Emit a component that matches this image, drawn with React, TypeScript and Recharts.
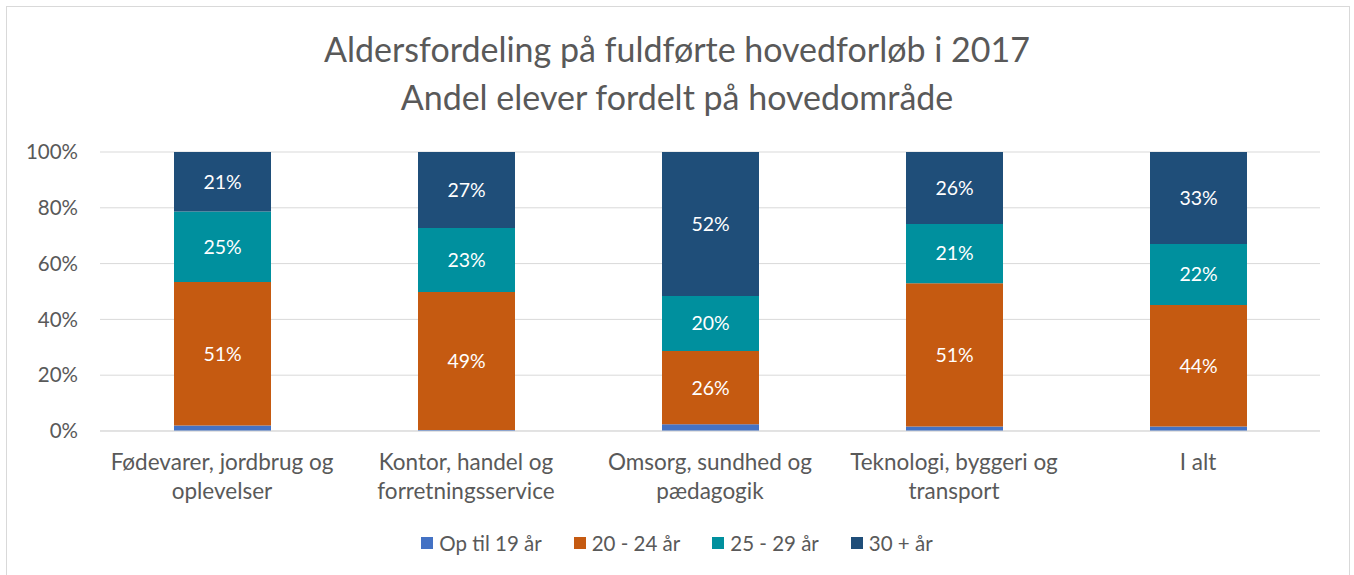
import React from 'react';
import { BarChart, Bar, XAxis, YAxis, CartesianGrid, Legend, LabelList } from 'recharts';

// Andele (%)
const categories = [
    'Fødevarer, jordbrug og\noplevelser',
    'Kontor, handel og\nforretningsservice',
    'Omsorg, sundhed og\npædagogik',
    'Teknologi, byggeri og\ntransport',
    'I alt',
];
const opTil19 = [2.0, 0.4, 2.4, 1.6, 1.6];
const aar20til24 = [51.4, 49.4, 26.3, 51.4, 43.6];
const aar25til29 = [25.3, 23.0, 19.7, 21.2, 21.8];
const aar30plus = [21.3, 27.2, 51.6, 25.8, 33.0];
const yTicks = [0, 20, 40, 60, 80, 100];

const titleLines = ['Aldersfordeling på fuldførte hovedforløb i 2017', 'Andel elever fordelt på hovedområde'];

const series = [
    { key: 'a', name: 'Op til 19 år', color: '#4472C4', values: opTil19, label: false },
    { key: 'b', name: '20 - 24 år', color: '#C55A11', values: aar20til24, label: true },
    { key: 'c', name: '25 - 29 år', color: '#00909E', values: aar25til29, label: true },
    { key: 'd', name: '30 + år', color: '#1F4E79', values: aar30plus, label: true },
];

const data = categories.map((name, i) => {
    const row: Record<string, any> = { name };
    series.forEach(s => { row[s.key] = s.values[i]; });
    return row;
});

const FONT = 'Lato, "Open Sans", sans-serif';
const TEXT = '#595959';

const CategoryTick = (props: any) => {
    const { x, y, payload } = props;
    const lines = String(payload.value).split('\n');
    return (
        <text x={x} y={y} textAnchor="middle" fill={TEXT} fontSize={22.5} fontFamily={FONT}>
            {lines.map((line, i) => (
                <tspan key={i} x={x} dy={i === 0 ? 39 : 29}>{line}</tspan>
            ))}
        </text>
    );
};

const LegendContent = () => (
    <div style={{ display: 'flex', justifyContent: 'center', gap: 32, fontFamily: FONT, fontSize: 20.5, color: TEXT }}>
        {series.map(s => (
            <div key={s.key} style={{ display: 'flex', alignItems: 'center' }}>
                <span style={{ width: 12, height: 12, background: s.color, display: 'inline-block', marginRight: 6 }} />
                <span>{s.name}</span>
            </div>
        ))}
    </div>
);

const App: React.FC = () => {
    return (
        <div style={{ position: 'relative', width: 1354, height: 575, overflow: 'hidden', background: 'white' }}>
            <style>{`body { margin: 0; }`}</style>
            <div style={{ position: 'absolute', left: 6, top: 6, width: 1342, height: 620, border: '1px solid #d9d9d9' }} />
            <div style={{ position: 'absolute', top: 25, left: 0, width: 1354, textAlign: 'center', fontFamily: FONT, fontSize: 34, color: TEXT, lineHeight: '48px' }}>
                {titleLines.map(t => <div key={t}>{t}</div>)}
            </div>
            <div style={{ position: 'absolute', left: 0, top: 0 }}>
                <BarChart width={1354} height={575} data={data} margin={{ top: 152, right: 34, bottom: 64, left: 20 }}>
                    <CartesianGrid vertical={false} stroke="#d9d9d9" />
                    <XAxis dataKey="name" height={80} tickLine={false} tickSize={0} tickMargin={0} stroke="#d9d9d9" tick={<CategoryTick />} interval={0} />
                    <YAxis width={80} domain={[0, 100]} ticks={yTicks} tickFormatter={(v: number) => `${v}%`} axisLine={false} tickLine={false} tickSize={0} tickMargin={22}
                        tick={{ fill: TEXT, fontSize: 20.5, fontFamily: FONT }} />
                    <Legend layout="horizontal" verticalAlign="middle" align="center" content={<LegendContent />}
                        wrapperStyle={{ top: 531, left: 0, width: 1354 }} />
                    {series.map(s => (
                        <Bar key={s.key} dataKey={s.key} name={s.name} stackId="x" fill={s.color} barSize={97} isAnimationActive={false}>
                            {s.label && (
                                <LabelList dataKey={s.key} position="center" fill="#ffffff" fontSize={19.5} fontFamily={FONT}
                                    formatter={(v: any) => `${Math.round(Number(v))}%`} />
                            )}
                        </Bar>
                    ))}
                </BarChart>
            </div>
        </div>
    );
};

export default App;
